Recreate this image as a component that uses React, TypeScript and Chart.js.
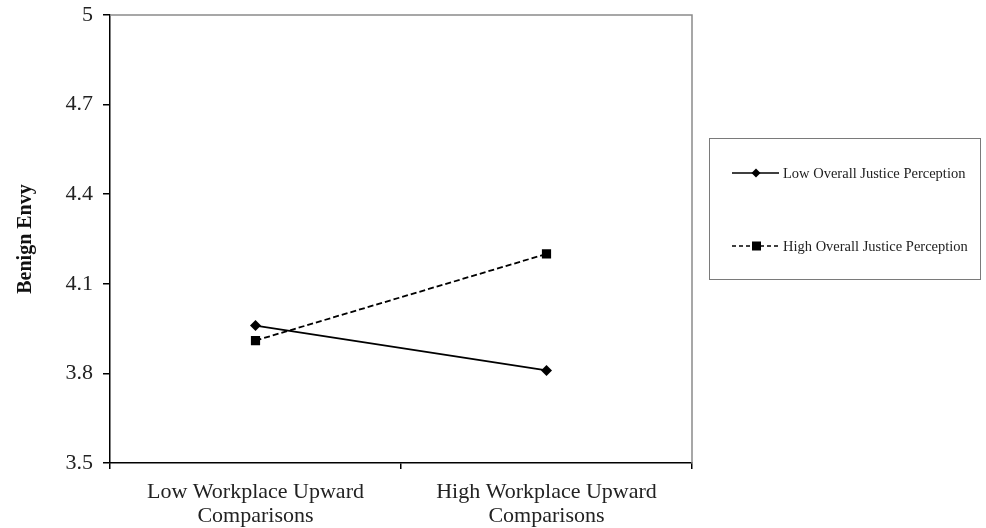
import React, { useEffect, useRef } from "react";
import { Chart, registerables } from "chart.js";

Chart.register(...registerables);

const categories: string[][] = [
  ["Low Workplace Upward", "Comparisons"],
  ["High Workplace Upward", "Comparisons"],
];
const lowJusticeLabel = "Low Overall Justice Perception";
const highJusticeLabel = "High Overall Justice Perception";
const lowJustice = [3.96, 3.81];
const highJustice = [3.91, 4.2];
const yTicks = [3.5, 3.8, 4.1, 4.4, 4.7, 5];
const yTitle = "Benign Envy";

const SERIF = "'Liberation Serif', 'Times New Roman', serif";

const framePlugin = {
  id: "frameAndLegend",
  afterDraw(chart: any) {
    const { ctx, chartArea } = chart;
    ctx.save();
    // top & right frame (gray)
    ctx.strokeStyle = "#8a8a8a";
    ctx.lineWidth = 1.5;
    ctx.beginPath();
    ctx.moveTo(chartArea.left, chartArea.top);
    ctx.lineTo(chartArea.right, chartArea.top);
    ctx.lineTo(chartArea.right, chartArea.bottom);
    ctx.stroke();

    // legend box
    const bx = 709, by = 138, bw = 271, bh = 141;
    ctx.strokeStyle = "#7a7a7a";
    ctx.lineWidth = 1;
    ctx.strokeRect(bx + 0.5, by + 0.5, bw, bh);

    const items = [
      { label: lowJusticeLabel, dash: [] as number[], marker: "diamond", y: 173 },
      { label: highJusticeLabel, dash: [4, 3], marker: "square", y: 246 },
    ];
    for (const it of items) {
      ctx.strokeStyle = "#000";
      ctx.lineWidth = 1.6;
      ctx.setLineDash(it.dash);
      ctx.beginPath();
      ctx.moveTo(732, it.y);
      ctx.lineTo(779, it.y);
      ctx.stroke();
      ctx.setLineDash([]);
      ctx.fillStyle = "#000";
      if (it.marker === "diamond") {
        ctx.beginPath();
        ctx.moveTo(756, it.y - 4.5);
        ctx.lineTo(760.5, it.y);
        ctx.lineTo(756, it.y + 4.5);
        ctx.lineTo(751.5, it.y);
        ctx.closePath();
        ctx.fill();
      } else {
        ctx.fillRect(752, it.y - 4.5, 9, 9);
      }
      ctx.fillStyle = "#222";
      ctx.font = `14.5px ${SERIF}`;
      ctx.textAlign = "left";
      ctx.textBaseline = "middle";
      ctx.fillText(it.label, 783, it.y + 1);
    }
    ctx.restore();
  },
};

export default function App() {
  const ref = useRef<HTMLCanvasElement | null>(null);

  useEffect(() => {
    if (!ref.current) return;
    const chart = new Chart(ref.current, {
      type: "line",
      data: {
        labels: categories as any,
        datasets: [
          {
            label: lowJusticeLabel,
            data: lowJustice,
            borderColor: "#000",
            backgroundColor: "#000",
            borderWidth: 1.8,
            pointStyle: "rectRot",
            pointRadius: 5.5,
            pointBorderWidth: 0,
            tension: 0,
          },
          {
            label: highJusticeLabel,
            data: highJustice,
            borderColor: "#000",
            backgroundColor: "#000",
            borderWidth: 1.8,
            borderDash: [6, 3],
            pointStyle: "rect",
            pointRadius: 6.5,
            pointBorderWidth: 0,
            tension: 0,
          },
        ],
      },
      options: {
        animation: false,
        responsive: false,
        maintainAspectRatio: false,
        layout: { padding: { top: 15, right: 294, left: 0, bottom: 0 } },
        plugins: { legend: { display: false }, tooltip: { enabled: false } },
        scales: {
          x: {
            type: "category",
            offset: true,
            grid: {
              offset: true,
              drawOnChartArea: false,
              tickLength: 6,
              color: "#000",
              lineWidth: 1.5,
            },
            border: { color: "#000", width: 1.5 },
            ticks: {
              color: "#222",
              padding: 11,
              maxRotation: 0,
              autoSkip: false,
              font: { family: SERIF, size: 22, lineHeight: 1.1 },
            },
            afterFit(scale: any) {
              scale.height = 65;
              scale.paddingLeft = 0;
              scale.paddingRight = 0;
            },
          },
          y: {
            min: 3.5,
            max: 5,
            afterBuildTicks(scale: any) {
              scale.ticks = yTicks.map((v) => ({ value: v }));
            },
            grid: {
              drawOnChartArea: false,
              tickLength: 7,
              color: "#000",
              lineWidth: 1.5,
            },
            border: { color: "#000", width: 1.5 },
            ticks: {
              color: "#222",
              padding: 10,
              font: { family: SERIF, size: 22 },
              callback: (v: any) => String(v),
            },
            title: {
              display: true,
              text: yTitle,
              color: "#111",
              font: { family: SERIF, size: 20, weight: "bold" },
              padding: { top: 14, bottom: 0 },
            },
            afterFit(scale: any) {
              scale.width = 110;
              scale.paddingTop = 0;
              scale.paddingBottom = 0;
            },
          },
        },
      },
      plugins: [framePlugin],
    });
    return () => chart.destroy();
  }, []);

  return (
    <div style={{ position: "fixed", left: 0, top: 0, width: 986, height: 528, background: "#fff" }}>
      <canvas ref={ref} width={986} height={528} style={{ width: 986, height: 528 }} />
    </div>
  );
}
